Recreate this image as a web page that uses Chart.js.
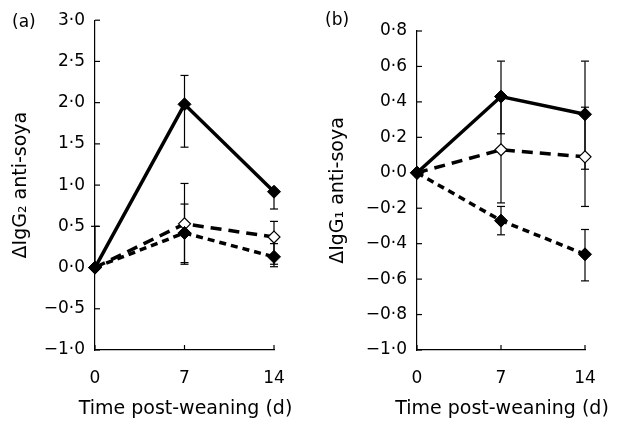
<!DOCTYPE html>
<html><head><meta charset="utf-8">
<script src="https://cdn.jsdelivr.net/npm/chart.js@4"></script>
<style>
html,body{margin:0;padding:0;background:#fff;}
#wrap{position:relative;width:624px;height:421px;overflow:hidden;}
.panel{position:absolute;top:0;width:312px;height:421px;}
</style></head><body>
<div id="wrap">
<div class="panel" style="left:0"><canvas id="ca" width="312" height="421"></canvas></div>
<div class="panel" style="left:312px"><canvas id="cb" width="312" height="421"></canvas></div>
</div>
<script>
// ---------- data ----------
const days = [0, 7, 14];
const xTickValues = [0, 7, 14];
const xTitle = 'Time post-weaning (d)';
const panelLabels = ['(a)', '(b)'];
const yTitles = ['ΔIgG₂ anti-soya', 'ΔIgG₁ anti-soya'];
const yTicksA = [-1.0, -0.5, 0, 0.5, 1.0, 1.5, 2.0, 2.5, 3.0];
const yTicksB = [-1.0, -0.8, -0.6, -0.4, -0.2, 0, 0.2, 0.4, 0.6, 0.8];

// Panel (a)
const aSolid      = [0, 1.98, 0.92];
const aSolidPlus  = [0.50, 0.35, 0];
const aSolidMinus = [0, 0.52, 0.21];
const aOpen       = [0, 0.53, 0.37];
const aOpenPlus   = [0, 0.49, 0.19];
const aOpenMinus  = [0, 0.49, 0.33];
const aDash       = [0, 0.42, 0.13];
const aDashPlus   = [0, 0.35, 0.16];
const aDashMinus  = [0, 0.36, 0.12];

// Panel (b)
const bSolid      = [0, 0.43, 0.33];
const bSolidPlus  = [0, 0.20, 0.30];
const bSolidMinus = [0, 0.21, 0.31];
const bOpen       = [0, 0.13, 0.09];
const bOpenPlus   = [0, 0.30, 0.28];
const bOpenMinus  = [0, 0.30, 0.28];
const bDash       = [0, -0.27, -0.46];
const bDashPlus   = [0, 0.08, 0.14];
const bDashMinus  = [0, 0.08, 0.15];

// ---------- helpers ----------
Chart.defaults.font.family = "'DejaVu Sans', sans-serif";
Chart.defaults.color = '#000';

const fmt = v => {
  if (Math.abs(v) < 1e-9) v = 0;
  const s = Math.abs(v).toFixed(1).replace('.', '\u00B7');
  return v < 0 ? '\u2212' + s : s;
};
const pts = vals => days.map((d, i) => ({x: d, y: vals[i]}));

const decor = {
  id: 'decor',
  beforeDatasetsDraw(chart, args, opts) {
    const {ctx} = chart;
    const x = chart.scales.x, y = chart.scales.y;
    const line = (x1, y1, x2, y2) => { ctx.beginPath(); ctx.moveTo(x1, y1); ctx.lineTo(x2, y2); ctx.stroke(); };
    ctx.save();
    ctx.strokeStyle = '#000';
    ctx.lineWidth = 1.2;
    // inner tick marks
    y.ticks.forEach(t => { const py = y.getPixelForValue(t.value); line(x.left, py, x.left + 5, py); });
    x.ticks.forEach(t => { const px = x.getPixelForValue(t.value); line(px, y.bottom, px, y.bottom - 5); });
    // error bars
    const cap = 4;
    chart.data.datasets.forEach(ds => {
      ds.data.forEach((p, i) => {
        const px = x.getPixelForValue(p.x);
        const y0 = y.getPixelForValue(p.y);
        const up = ds.errPlus[i], dn = ds.errMinus[i];
        if (up > 0) { const yt = y.getPixelForValue(p.y + up); line(px, y0, px, yt); line(px - cap, yt, px + cap, yt); }
        if (dn > 0) { const yb = y.getPixelForValue(p.y - dn); line(px, y0, px, yb); line(px - cap, yb, px + cap, yb); }
      });
    });
    ctx.restore();
  },
  afterDraw(chart, args, opts) {
    const {ctx} = chart;
    const x = chart.scales.x;
    ctx.save();
    ctx.fillStyle = '#000';
    ctx.font = "17px 'DejaVu Sans', sans-serif";
    ctx.textAlign = 'left';
    ctx.textBaseline = 'middle';
    ctx.fillText(opts.label, opts.lx, opts.ly);
    // x-axis title (drawn without width compression)
    ctx.font = "19px 'DejaVu Sans', sans-serif";
    ctx.textAlign = 'center';
    ctx.textBaseline = 'alphabetic';
    ctx.fillText(opts.xTitle, (x.left + x.right) / 2 + 1, 414);
    ctx.restore();
  }
};

function makeChart(id, o) {
  const datasets = [
    {label: 'solid', data: pts(o.solid), errPlus: o.solidPlus, errMinus: o.solidMinus,
     borderColor: '#000', borderWidth: 3.5, pointStyle: 'rectRot', pointRadius: 6.5,
     pointBackgroundColor: '#000', pointBorderColor: '#000', pointBorderWidth: 1, clip: false},
    {label: 'dash', data: pts(o.dash), errPlus: o.dashPlus, errMinus: o.dashMinus,
     borderColor: '#000', borderWidth: 3.5, borderDash: [7, 5], pointStyle: 'rectRot', pointRadius: 6.5,
     pointBackgroundColor: '#000', pointBorderColor: '#000', pointBorderWidth: 1, clip: false},
    {label: 'open', data: pts(o.open), errPlus: o.openPlus, errMinus: o.openMinus,
     borderColor: '#000', borderWidth: 3.5, borderDash: [11, 7], pointStyle: 'rectRot', pointRadius: 6,
     pointBackgroundColor: '#fff', pointBorderColor: '#000', pointBorderWidth: 1.2, clip: false}
  ];
  return new Chart(document.getElementById(id), {
    type: 'line',
    data: {datasets},
    options: {
      responsive: false,
      animation: false,
      events: [],
      layout: {padding: {top: o.top, right: o.right, bottom: 0, left: 0}},
      plugins: {
        legend: {display: false},
        tooltip: {enabled: false},
        decor: {label: o.label, lx: o.lx, ly: o.ly, xTitle: xTitle}
      },
      scales: {
        x: {
          type: 'linear', min: 0, max: 14,
          afterBuildTicks: s => { s.ticks = xTickValues.map(v => ({value: v})); },
          afterFit: s => { s.height = 71; },
          grid: {display: false, drawTicks: false},
          border: {display: true, color: '#000', width: 1.2},
          ticks: {color: '#000', font: {size: 17}, padding: 18, maxRotation: 0, autoSkip: false,
                  callback: v => String(v)},
          title: {display: false}
        },
        y: {
          type: 'linear', min: o.yTicks[0], max: o.yTicks[o.yTicks.length - 1],
          afterBuildTicks: s => { s.ticks = o.yTicks.map(v => ({value: v})); },
          afterFit: s => { s.width = o.yWidth; },
          grid: {display: false, drawTicks: false},
          border: {display: true, color: '#000', width: 1.2},
          ticks: {color: '#000', font: {size: 17}, padding: 10, autoSkip: false, callback: v => fmt(v)},
          title: {display: true, text: o.yTitle, color: '#000', font: {size: 19}, padding: {top: o.titlePad, bottom: 0}}
        }
      }
    },
    plugins: [decor]
  });
}

makeChart('ca', {
  solid: aSolid, solidPlus: aSolidPlus, solidMinus: aSolidMinus,
  open: aOpen, openPlus: aOpenPlus, openMinus: aOpenMinus,
  dash: aDash, dashPlus: aDashPlus, dashMinus: aDashMinus,
  yTicks: yTicksA, yTitle: yTitles[0], label: panelLabels[0],
  top: 20, right: 38, yWidth: 95, titlePad: 10, lx: 12, ly: 23
});
makeChart('cb', {
  solid: bSolid, solidPlus: bSolidPlus, solidMinus: bSolidMinus,
  open: bOpen, openPlus: bOpenPlus, openMinus: bOpenMinus,
  dash: bDash, dashPlus: bDashPlus, dashMinus: bDashMinus,
  yTicks: yTicksB, yTitle: yTitles[1], label: panelLabels[1],
  top: 31, right: 39, yWidth: 105, titlePad: 15, lx: 13, ly: 21
});
</script>
</body></html>
